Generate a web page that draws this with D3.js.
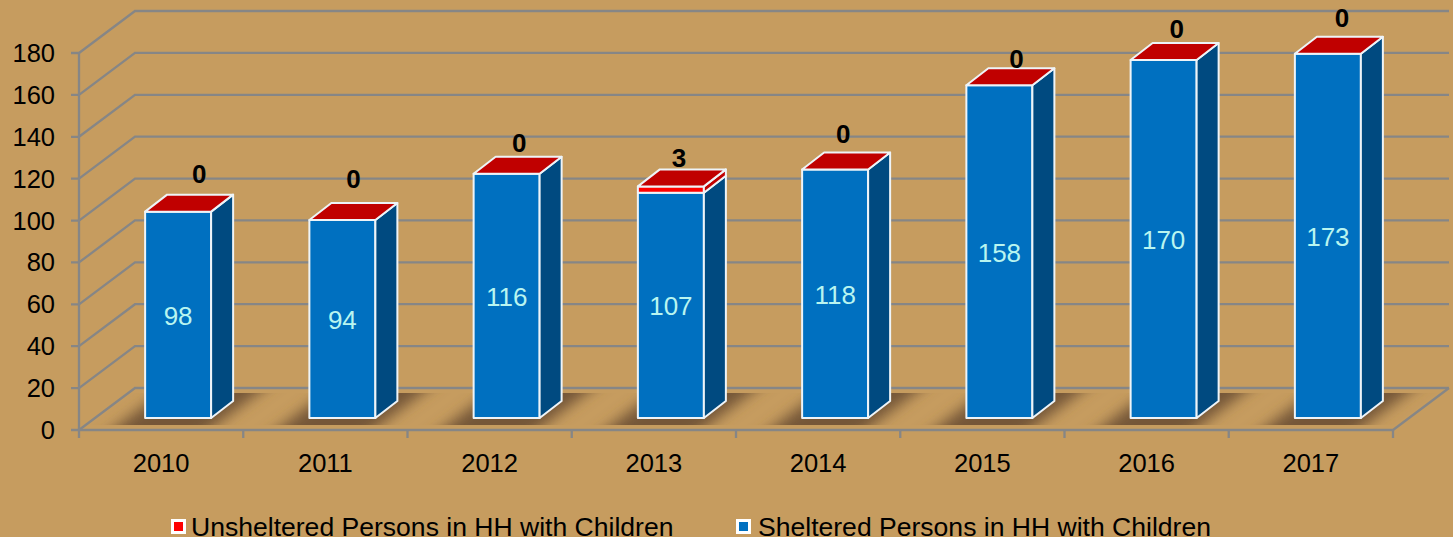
<!DOCTYPE html>
<html>
<head>
<meta charset="utf-8">
<script src="https://cdn.jsdelivr.net/npm/d3@7"></script>
<style>
html, body { margin: 0; padding: 0; background: #c69c5f; overflow: hidden; }
text { font-family: "Liberation Sans", Arial, sans-serif; }
</style>
</head>
<body>
<div id="chart"></div>
<script>
const width = 1453, height = 537;

const years = ["2010", "2011", "2012", "2013", "2014", "2015", "2016", "2017"];
const sheltered = [98, 94, 116, 107, 118, 158, 170, 173];
const unsheltered = [0, 0, 0, 3, 0, 0, 0, 0];
const yTicks = [0, 20, 40, 60, 80, 100, 120, 140, 160, 180];
const legendNames = ["Unsheltered Persons in HH with Children", "Sheltered Persons in HH with Children"];

const gridColor = "#868686";
const wall = { dx: 56, dy: -42 };    // depth of the whole 3d box
const depth = { dx: 22, dy: -17 };   // depth of a bar
const floorShift = { dx: 17, dy: -12 };
// the labels over the bars were placed by hand in the original
const topLabelDx = [21, 11, 12.5, 8, 8, 17, 13, 14];
const topLabelDy = [29, 32, 22, 19, 27, 17, 22, 27];

const svg = d3.select("#chart").append("svg")
    .attr("width", width)
    .attr("height", height)
    .style("display", "block");

svg.append("rect").attr("width", width).attr("height", height).attr("fill", "#c69c5f");

const defs = svg.append("defs");
defs.append("filter").attr("id", "blur")
    .attr("x", "-30%").attr("width", "160%")
    .append("feGaussianBlur").attr("stdDeviation", 7);
defs.append("clipPath").attr("id", "floorClip")
    .append("rect").attr("x", 79).attr("width", 1371).attr("y", 393).attr("height", 32);

const x = d3.scaleBand().domain(years).range([79, 1393]);
const y = d3.scaleLinear().domain([0, 180]).range([430, 53]);
// bars stand a little inside the floor, so they get their own scale
const yBar = d3.scaleLinear().domain([0, 180]).range([430 + floorShift.dy, 430 + floorShift.dy - 379]);
const barWidth = 66;
const barX = d => x(d) + (x.bandwidth() - barWidth) / 2 + floorShift.dx;

// back wall and side wall grid
const grid = svg.append("g").attr("fill", "none").attr("stroke", gridColor).attr("stroke-width", 2.3);
grid.selectAll(".back").data(yTicks).enter().append("polyline")
    .attr("class", "back")
    .attr("points", d => [
        [71, y(d)],
        [79, y(d)],
        [79 + wall.dx, y(d) + wall.dy],
        [1393 + wall.dx, y(d) + wall.dy]
    ].join(" "));
grid.append("line").attr("x1", 79).attr("x2", 79).attr("y1", y(180)).attr("y2", y(0));
// floor front edge and right edge
grid.append("polyline").attr("points", [
    [79, y(0)],
    [1393, y(0)],
    [1393 + wall.dx, y(0) + wall.dy]
].join(" "));
// x ticks
grid.selectAll(".xtick").data(years.concat("end")).enter().append("line")
    .attr("class", "xtick")
    .attr("x1", (d, i) => 79 + i * x.step())
    .attr("x2", (d, i) => 79 + i * x.step())
    .attr("y1", y(0))
    .attr("y2", y(0) + 8);

// bar shadows on the floor, slanted and cut off at the floor band
svg.append("g").attr("clip-path", "url(#floorClip)")
    .selectAll("polygon").data(years).enter().append("polygon")
    .attr("fill", "#745638")
    .attr("filter", "url(#blur)")
    .attr("points", d => {
        const bx = barX(d);
        return [
            [bx - 53, 445],
            [bx + 44, 445],
            [bx + 137, 375],
            [bx + 40, 375]
        ].join(" ");
    });

// one 3d block: front face, side face, top face
function block(g, x0, yTop, yBottom, front, side, top) {
    const x1 = x0 + barWidth;
    const poly = (pts, fill) => g.append("polygon")
        .attr("points", pts.join(" "))
        .attr("fill", fill)
        .attr("stroke", "#eef4f8")
        .attr("stroke-width", 2)
        .attr("stroke-linejoin", "round");
    if (yBottom > yTop) {
        poly([[x0, yTop], [x1, yTop], [x1, yBottom], [x0, yBottom]], front);
        poly([[x1, yTop], [x1 + depth.dx, yTop + depth.dy], [x1 + depth.dx, yBottom + depth.dy], [x1, yBottom]], side);
    }
    if (top) {
        poly([[x0, yTop], [x0 + depth.dx, yTop + depth.dy], [x1 + depth.dx, yTop + depth.dy], [x1, yTop]], top);
    }
}

const bars = svg.append("g");
years.forEach((yr, i) => {
    const g = bars.append("g");
    const blueTop = yBar(sheltered[i]);
    const redTop = yBar(sheltered[i] + unsheltered[i]);
    block(g, barX(yr), blueTop, yBar(0), "#0070c0", "#004a80", null);
    block(g, barX(yr), redTop, blueTop, "#ff0000", "#c00000", "#c00000");
});

// value labels
svg.append("g").selectAll("text").data(years).enter().append("text")
    .attr("x", d => barX(d) + barWidth / 2)
    .attr("y", (d, i) => (yBar(0) + yBar(sheltered[i])) / 2 + 10)
    .attr("text-anchor", "middle")
    .attr("font-size", 26)
    .attr("fill", "#b9f5f0")
    .text((d, i) => sheltered[i]);

svg.append("g").selectAll("text").data(years).enter().append("text")
    .attr("x", (d, i) => barX(d) + barWidth / 2 + topLabelDx[i])
    .attr("y", (d, i) => yBar(sheltered[i] + unsheltered[i]) - topLabelDy[i])
    .attr("text-anchor", "middle")
    .attr("font-size", 26)
    .attr("font-weight", "bold")
    .attr("fill", "#000")
    .text((d, i) => unsheltered[i]);

// axis labels
svg.append("g").selectAll("text").data(yTicks).enter().append("text")
    .attr("x", 55)
    .attr("y", d => y(d) + 9)
    .attr("text-anchor", "end")
    .attr("font-size", 25.5)
    .attr("fill", "#000")
    .text(d => d);

svg.append("g").selectAll("text").data(years).enter().append("text")
    .attr("x", d => x(d) + x.bandwidth() / 2)
    .attr("y", 472)
    .attr("text-anchor", "middle")
    .attr("font-size", 25.5)
    .attr("fill", "#000")
    .text(d => d);

// legend
const legendX = [172, 737];
const legendColors = ["#ff0000", "#0070c0"];
const legend = svg.append("g");
legendNames.forEach((name, i) => {
    legend.append("rect")
        .attr("x", legendX[i] + 0.5).attr("y", 520.5)
        .attr("width", 12).attr("height", 12)
        .attr("fill", legendColors[i])
        .attr("stroke", "#fff").attr("stroke-width", 3);
    legend.append("text")
        .attr("x", legendX[i] + 19 + i * 2)
        .attr("y", 535.5)
        .attr("font-size", 26.55)
        .attr("fill", "#000")
        .text(name);
});
</script>
</body>
</html>
